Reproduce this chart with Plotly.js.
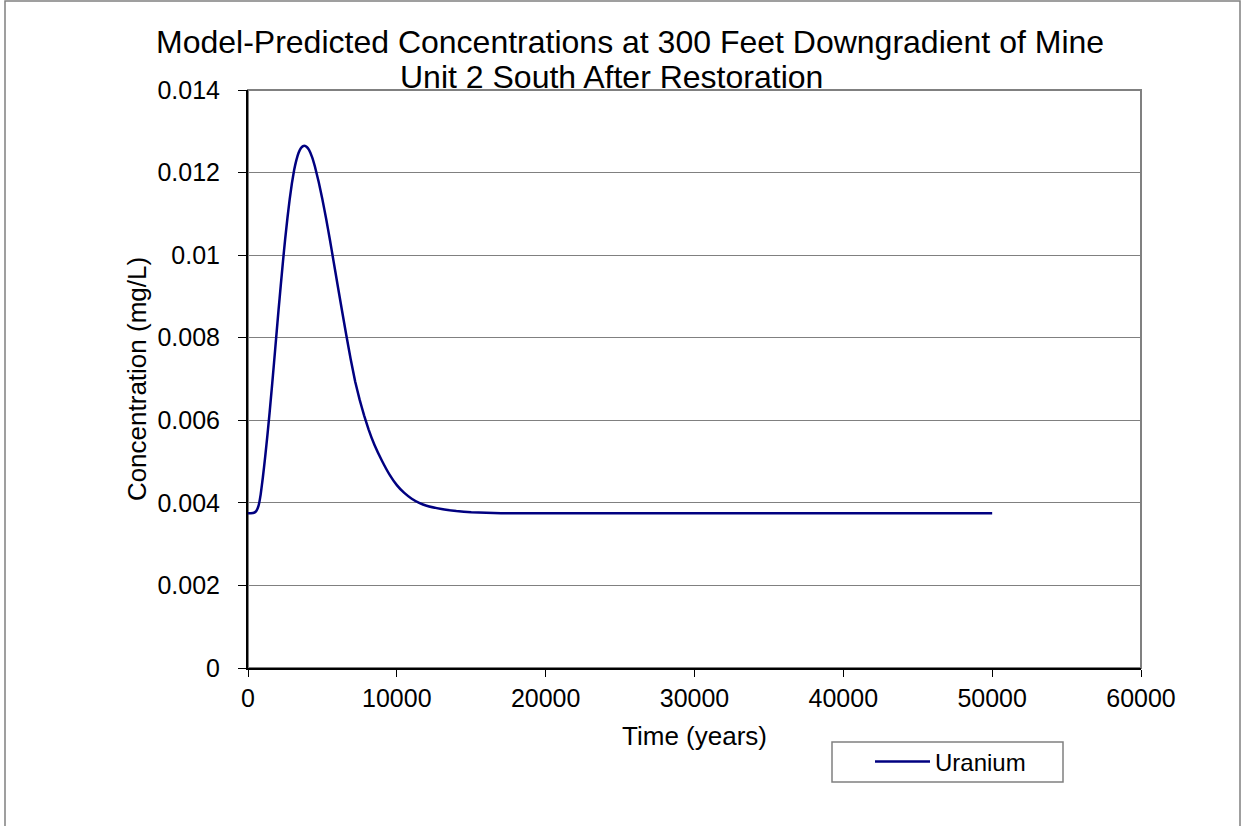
<!DOCTYPE html>
<html>
<head>
<meta charset="utf-8">
<script src="https://cdn.plot.ly/plotly-3.0.1.min.js"></script>
<style>html,body{margin:0;padding:0;background:#fff;}#chart{width:1247px;height:826px;}</style>
</head>
<body>
<div id="chart"></div>
<script>
// Time (years)
const timeYears = [0, 200, 400, 550, 700, 850, 1000, 1150, 1300, 1450, 1600, 1750, 1900, 2050, 2200, 2350, 2500, 2650, 2800, 2950, 3100, 3250, 3400, 3550, 3700, 3800, 3950, 4100, 4300, 4500, 4750, 5000, 5250, 5500, 5750, 6000, 6300, 6600, 6900, 7200, 7500, 7800, 8100, 8500, 9000, 9500, 10000, 10500, 11000, 11500, 12000, 13000, 14000, 15000, 16000, 17000, 20000, 25000, 30000, 35000, 40000, 45000, 50000];
// Uranium concentration (mg/L)
const uranium = [0.00375, 0.00375, 0.00376, 0.00380, 0.00392, 0.00420, 0.00462, 0.00510, 0.00562, 0.00618, 0.00678, 0.00740, 0.00803, 0.00866, 0.00926, 0.00985, 0.01040, 0.01090, 0.01135, 0.01174, 0.01206, 0.01230, 0.01248, 0.01259, 0.01264, 0.01265, 0.01262, 0.01255, 0.01238, 0.01214, 0.01177, 0.01135, 0.01088, 0.01038, 0.00985, 0.00932, 0.00869, 0.00807, 0.00748, 0.00694, 0.00650, 0.00612, 0.00578, 0.00540, 0.00502, 0.00469, 0.00443, 0.00424, 0.00410, 0.00400, 0.00393, 0.00385, 0.00380, 0.00377, 0.00376, 0.00375, 0.00375, 0.00375, 0.00375, 0.00375, 0.00375, 0.00375, 0.00375];
const seriesName = "Uranium";
const titleLine1 = "Model-Predicted Concentrations at 300 Feet Downgradient of Mine";
const titleLine2 = "Unit 2 South After Restoration";
const xTitle = "Time (years)";
const yTitle = "Concentration (mg/L)";

const FONT = "Liberation Sans, Arial, sans-serif";

const trace = {
  x: timeYears, y: uranium, type: "scatter", mode: "lines", name: seriesName,
  line: {color: "#000080", width: 2.5, shape: "spline", smoothing: 0.3}
};

const layout = {
  width: 1247, height: 826,
  margin: {l: 248, r: 106, t: 90, b: 158},
  paper_bgcolor: "#ffffff", plot_bgcolor: "#ffffff",
  font: {family: FONT, size: 24, color: "#000"},
  showlegend: true,
  legend: {x: (870 - 248) / 893, y: (668 - 762) / 578, xanchor: "left", yanchor: "middle",
    bgcolor: "rgba(0,0,0,0)", borderwidth: 0, itemwidth: 55, font: {family: FONT, size: 24}},
  xaxis: {
    range: [0, 60000], dtick: 10000, tick0: 0, tickformat: "d", ticks: "outside", ticklen: 7, tickcolor: "#000",
    showgrid: false, zeroline: false, showline: true, linecolor: "#000", linewidth: 2,
    tickfont: {family: FONT, size: 25}, fixedrange: true,
    title: {text: xTitle, font: {family: FONT, size: 26}, standoff: 16}
  },
  yaxis: {
    range: [0, 0.014], dtick: 0.002, tick0: 0, ticks: "outside", ticklen: 8, tickcolor: "#000",
    showgrid: true, gridcolor: "#808080", gridwidth: 1, zeroline: false,
    showline: true, linecolor: "#000", linewidth: 2, ticklabelstandoff: 13,
    tickfont: {family: FONT, size: 25}, fixedrange: true,
    title: {text: yTitle, font: {family: FONT, size: 26}, standoff: 3}
  },
  shapes: [
    {type: "rect", xref: "paper", yref: "paper", x0: 0, x1: 1, y0: 0, y1: 1,
     line: {color: "#808080", width: 2}, layer: "below"},
    {type: "rect", xref: "paper", yref: "paper",
     x0: (832 - 248) / 893, x1: (1063 - 248) / 893, y0: (668 - 782) / 578, y1: (668 - 742) / 578,
     line: {color: "#808080", width: 1.5}},
    {type: "rect", xref: "paper", yref: "paper",
     x0: (5 - 248) / 893, x1: (1240 - 248) / 893, y0: (668 - 840) / 578, y1: (668 - 1) / 578,
     line: {color: "#808080", width: 1.5}}
  ],
  annotations: [
    {text: titleLine1, xref: "paper", yref: "paper", x: (630 - 248) / 893, y: (668 - 42) / 578,
     xanchor: "center", yanchor: "middle", showarrow: false, font: {family: FONT, size: 32}},
    {text: titleLine2, xref: "paper", yref: "paper", x: (611 - 248) / 893, y: (668 - 77) / 578,
     xanchor: "center", yanchor: "middle", showarrow: false, font: {family: FONT, size: 32}}
  ]
};

Plotly.newPlot("chart", [trace], layout, {displayModeBar: false, staticPlot: true});
</script>
</body>
</html>
